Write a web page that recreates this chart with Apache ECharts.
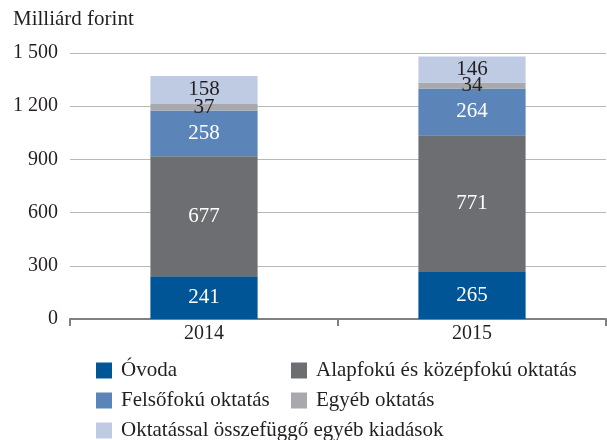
<!DOCTYPE html>
<html>
<head>
<meta charset="utf-8">
<script src="https://cdn.jsdelivr.net/npm/echarts@6/dist/echarts.min.js"></script>
<style>
  html, body { margin: 0; padding: 0; background: #fff; }
  #chart { width: 607px; height: 440px; }
</style>
</head>
<body>
<div id="chart"></div>
<script>
// Education spending by category, billion HUF
const years = ['2014', '2015'];
const ovoda = [241, 265];
const alapKozep = [677, 771];
const felso = [258, 264];
const egyeb = [37, 34];
const kapcsolodo = [158, 146];
const yTicks = [0, 300, 600, 900, 1200, 1500];

const FONT = 'Liberation Serif, DejaVu Serif, serif';
const TEXT = '#231f20';

const names = ['Óvoda', 'Alapfokú és középfokú oktatás', 'Felsőfokú oktatás',
               'Egyéb oktatás', 'Oktatással összefüggő egyéb kiadások'];
const colors = ['#005596', '#6d6e71', '#5b84b8', '#a7a9ac', '#bfcbe3'];

function fmt(v) {
  return String(v).replace(/\B(?=(\d{3})+(?!\d))/g, ' ');
}

function seriesOf(i, data, labelColor) {
  return {
    name: names[i],
    type: 'bar',
    stack: 'total',
    data: data,
    barWidth: '40%',
    itemStyle: { color: colors[i] },
    label: {
      show: true,
      position: 'inside',
      color: labelColor,
      fontFamily: FONT,
      fontSize: 21
    }
  };
}

// one legend block per entry, laid out in a two-column grid
const legendSlots = [
  { left: 96, top: 360 },
  { left: 291, top: 360 },
  { left: 96, top: 390 },
  { left: 291, top: 390 },
  { left: 96, top: 420 }
];
const legends = names.map((n, i) => ({
  left: legendSlots[i].left,
  top: legendSlots[i].top,
  padding: 0,
  itemWidth: 16, itemHeight: 16, icon: 'rect',
  selectedMode: false,
  data: [n],
  textStyle: { fontFamily: FONT, fontSize: 21, color: TEXT, lineHeight: 16, padding: [0, 0, 0, 4] }
}));

const chart = echarts.init(document.getElementById('chart'), null, { renderer: 'canvas' });
chart.setOption({
  animation: false,
  textStyle: { fontFamily: FONT, color: TEXT },
  title: {
    text: 'Milliárd forint',
    left: 8, top: 4,
    textStyle: { fontFamily: FONT, fontSize: 21, fontWeight: 'normal', color: TEXT }
  },
  grid: { left: 70, right: 1, top: 53, bottom: 121, containLabel: false },
  legend: legends,
  xAxis: {
    type: 'category',
    data: years,
    axisLine: { lineStyle: { color: '#808080', width: 2 } },
    axisTick: { show: true, length: 7, lineStyle: { color: '#808080', width: 2 } },
    axisLabel: { fontFamily: FONT, fontSize: 20, color: TEXT, margin: 5 },
    splitLine: { show: false }
  },
  yAxis: {
    type: 'value',
    min: yTicks[0],
    max: yTicks[yTicks.length - 1],
    interval: 300,
    axisLine: { show: false },
    axisTick: { show: false },
    axisLabel: {
      fontFamily: FONT, fontSize: 20, color: TEXT, margin: 12,
      formatter: fmt
    },
    splitLine: { lineStyle: { color: '#b8b8b8', width: 1 } }
  },
  series: [
    seriesOf(0, ovoda, '#ffffff'),
    seriesOf(1, alapKozep, '#ffffff'),
    seriesOf(2, felso, '#ffffff'),
    seriesOf(3, egyeb, TEXT),
    seriesOf(4, kapcsolodo, TEXT)
  ]
});
</script>
</body>
</html>
